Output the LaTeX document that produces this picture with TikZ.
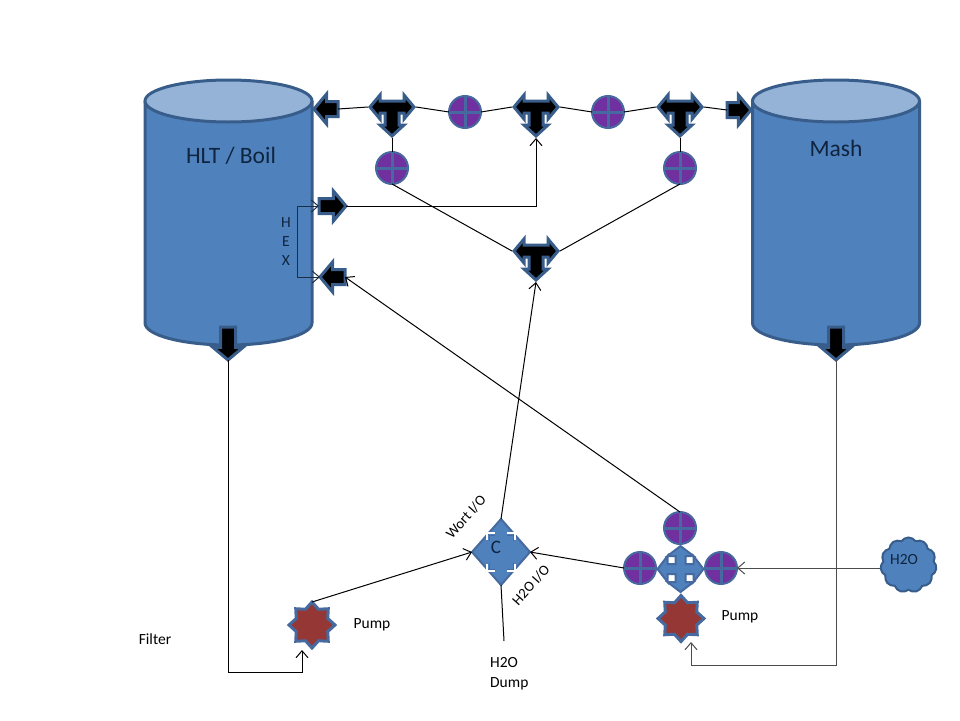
\documentclass[tikz,border=0pt]{standalone}
\usepackage{fontspec}
\setmainfont{Carlito}
\usetikzlibrary{arrows.meta,shapes.arrows,shapes.geometric,shapes.symbols}
\definecolor{tankfill}{HTML}{4F81BD}
\definecolor{tankline}{HTML}{385D8A}
\definecolor{tanktop}{HTML}{95B3D7}
\definecolor{valvefill}{HTML}{7030A0}
\definecolor{valveline}{HTML}{46699F}
\definecolor{pumpfill}{HTML}{953735}
\definecolor{labelnavy}{HTML}{0F243E}
\tikzset{
  >={Straight Barb[length=7pt,width=12pt]},
  pipe/.style={line width=1pt,black},
  valve/.style={circle,draw=valveline,line width=2pt,fill=valvefill,minimum size=32pt,inner sep=0pt,outer sep=0pt,
    path picture={\draw[valveline,line width=3pt] (path picture bounding box.north) -- (path picture bounding box.south) (path picture bounding box.west) -- (path picture bounding box.east);}},
  blockarrow/.style={single arrow,draw=tankline,line width=3pt,fill=black,inner sep=0pt,outer sep=0pt,anchor=tip,
    text width=12pt,text height=12pt,text depth=0pt,
    minimum height=#1,single arrow head extend=7.5pt,single arrow tip angle=100},
  pumpstar/.style={star,star points=8,star point ratio=1.35,draw=valveline,line width=3pt,fill=pumpfill,minimum size=46pt,inner sep=0pt,outer sep=0pt},
  smalltext/.style={font=\fontsize{15.5}{18}\selectfont,inner sep=0pt},
  slanttext/.style={font=\fontsize{14.5}{18}\selectfont,inner sep=0pt,rotate=48},
  tanktext/.style={font=\fontsize{23.5}{26}\selectfont,text=labelnavy,inner sep=0pt},
  tank/.pic={
    \fill[tankfill] (-83.5,0) -- (-83.5,222) arc[start angle=180,end angle=360,x radius=83.5pt,y radius=22pt] -- (83.5,0) -- cycle;
    \draw[tankline,line width=3pt] (-83.5,0) -- (-83.5,222) arc[start angle=180,end angle=360,x radius=83.5pt,y radius=22pt] -- (83.5,0);
    \draw[tankline,line width=3pt,fill=tanktop] (0,0) ellipse[x radius=83.5pt,y radius=21pt];
  },
  tvalve/.pic={
    \draw[tankline,line width=3pt,fill=black,line join=miter]
      (-22,0) -- (-12,-12) -- (-12,-6) -- (12,-6) -- (12,-12) -- (22,0) -- (12,12) -- (12,6) -- (7,6) -- (7,18) -- (12,18)
      -- (0,29) -- (-12,18) -- (-7,18) -- (-7,6) -- (-12,6) -- (-12,12) -- cycle;
    \coordinate (-left) at (-24,0);
    \coordinate (-right) at (24,0);
    \coordinate (-tip) at (0,31);
  },
  crossvalve/.pic={
    \draw[valveline,line width=2pt,fill=tankfill] (0,-23) -- (13,-13) -- (5,-13) -- (5,-5) -- (13,-5) -- (13,-13) -- (23,0)
      -- (13,13) -- (13,5) -- (5,5) -- (5,13) -- (13,13) -- (0,23) -- (-13,13) -- (-5,13) -- (-5,5) -- (-13,5) -- (-13,13)
      -- (-23,0) -- (-13,-13) -- (-13,-5) -- (-5,-5) -- (-5,-13) -- (-13,-13) -- cycle;
  },
  wortvalve/.pic={
    \draw[valveline,line width=2pt,fill=tankfill] (0,-33) -- (29,0) -- (0,33) -- (-29,0) -- cycle;
    \foreach \sx in {-1,1} \foreach \sy in {-1,1} {
      \draw[white,line width=1.5pt] (6*\sx,19*\sy) -- (14*\sx,19*\sy) -- (14*\sx,12*\sy);
      \draw[valveline,line width=1pt] (6*\sx,17*\sy) -- (12*\sx,17*\sy) -- (12*\sx,11*\sy);
    }
    \coordinate (-top) at (0,-33);
    \coordinate (-bottom) at (0,33);
    \coordinate (-left) at (-29,0);
    \coordinate (-right) at (29,0);
  },
}
\begin{document}
\begin{tikzpicture}[x=1pt,y=-1pt]
\useasboundingbox (0,0) rectangle (960,720);
% tanks
\pic at (228.5,101) {tank};
\pic at (836,101) {tank};
\node[tanktext] (hltlabel) at (231,156) {HLT / Boil};
\node[tanktext] (mashlabel) at (836,148) {Mash};
% block arrows on the tanks
\node[blockarrow=24pt,shape border rotate=180] (hltin) at (314,109) {};
\node[blockarrow=24pt] (mashin) at (751,110) {};
\node[blockarrow=27pt] (hexout) at (346,206) {};
\node[blockarrow=25pt,shape border rotate=180] (hexin) at (320,277) {};
\node[blockarrow=33pt,shape border rotate=270] (hltout) at (228,360) {};
\node[blockarrow=33pt,shape border rotate=270] (mashout) at (836,360) {};
% valves
\pic (t1) at (392,107) {tvalve};
\pic (t2) at (536,107) {tvalve};
\pic (t3) at (680,107) {tvalve};
\pic (t4) at (536,251) {tvalve};
\node[valve] (v1) at (465,112) {};
\node[valve] (v2) at (608,112) {};
\node[valve] (v3) at (392,168) {};
\node[valve] (v4) at (680,168) {};
\node[valve] (v5) at (680,528) {};
\node[valve] (v6) at (640,568) {};
\node[valve] (v7) at (721,568) {};
\pic at (680.5,569) {crossvalve};
\pic (wort) at (501,552) {wortvalve};
\node[font=\fontsize{19}{22}\selectfont,text=labelnavy,inner sep=0pt] (clabel) at (496,547) {C};
% pumps and water
\node[pumpstar] (pump1) at (312,625) {};
\node[pumpstar] (pump2) at (681,618.5) {};
\coordinate (pump1in) at (302,650);
\coordinate (pump2in) at (691,642);
\node[cloud,cloud puffs=11,cloud puff arc=110,aspect=1,draw=tankline,line width=2pt,fill=tankfill,minimum width=56pt,minimum height=55pt,inner sep=0pt] (water) at (908.5,565) {};
\node[smalltext,text=labelnavy] (waterlabel) at (904,560) {H2O};
\coordinate (dump) at (504,641);
% labels
\node[smalltext] (filterlabel) at (155,639) {Filter};
\node[smalltext] (pump1label) at (372,624.5) {Pump};
\node[smalltext] (pump2label) at (740,617) {Pump};
\node[smalltext,align=left,anchor=west,font=\fontsize{15.5}{20}\selectfont] (dumplabel) at (490,673.5) {H2O\\Dump};
\node[slanttext] (wortlabel) at (466,517) {Wort I/O};
\node[slanttext] (waterio) at (531,585) {H2O I/O};
\node[smalltext,align=center,font=\fontsize{15.5}{19}\selectfont,text=labelnavy] (hexlabel) at (286,242) {H\\E\\X};
% top line
\draw[pipe] (hltin.tail) -- (t1-left);
\draw[pipe] (t1-right) -- (v1.west);
\draw[pipe] (v1.east) -- (t2-left);
\draw[pipe] (t2-right) -- (v2.west);
\draw[pipe] (v2.east) -- (t3-left);
\draw[pipe] (t3-right) -- (mashin.tail);
\draw[pipe] (t1-tip) -- (v3.north);
\draw[pipe] (t3-tip) -- (v4.north);
\draw[pipe] (v3.south) -- (t4-left);
\draw[pipe] (v4.south) -- (t4-right);
% heat exchanger
\draw[pipe,tankline!50!black,<->] (hexout.tail) -- ++(-22,0) |- (hexin.tip);
\draw[pipe,->] (hexout.tip) -| (t2-tip);
\draw[pipe,->] (v5.north) -- (hexin.tail);
% bottom lines
\draw[pipe,->] (wort-top) -- (t4-tip);
\draw[pipe] (wort-bottom) -- (dump);
\draw[pipe,->] (pump1.north) -- (wort-left);
\draw[pipe,->] (v6.west) -- (wort-right);
\draw[pipe,black!70,->] (water.west |- v7.east) -- (v7.east);
\draw[pipe,->] (hltout.tip) |- (pump1in |- 0,672) -- (pump1in);
\draw[pipe,black!70,->] (mashout.tip) |- (pump2in |- 0,665) -- (pump2in);
\end{tikzpicture}
\end{document}
